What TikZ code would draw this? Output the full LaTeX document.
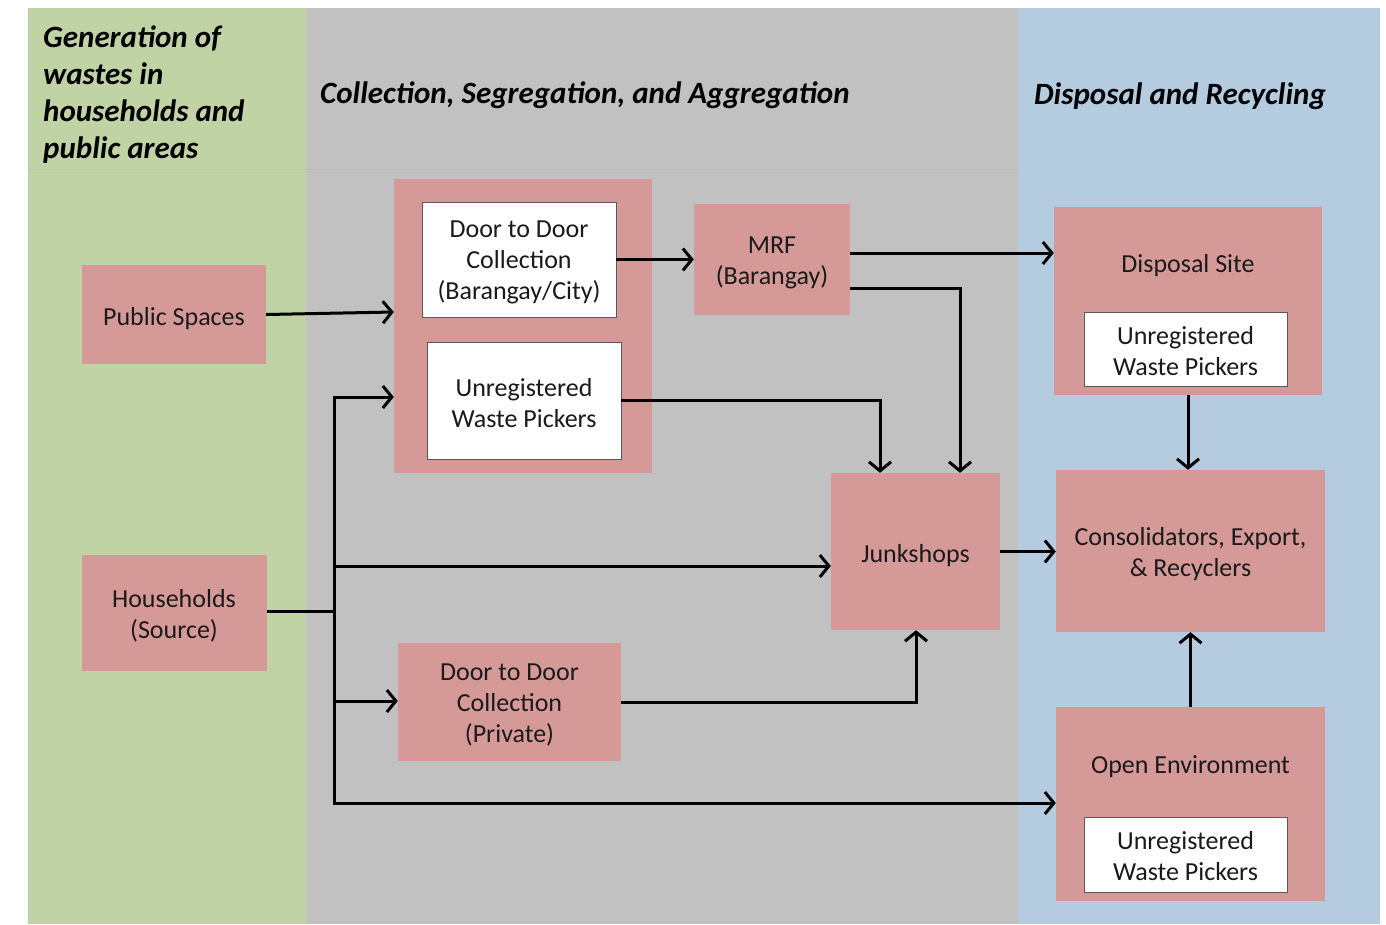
\documentclass[tikz,border=0pt]{standalone}
\usepackage{fontspec}
\setmainfont{Carlito}
\usetikzlibrary{arrows.meta}
\definecolor{bggreen}{HTML}{C0D3A5}
\definecolor{bggray}{HTML}{C1C1C1}
\definecolor{bgblue}{HTML}{B5CBE0}
\definecolor{boxpink}{HTML}{D59A98}
\definecolor{txt}{HTML}{1A1A1A}
\begin{document}
\begin{tikzpicture}[x=1pt,y=-1pt,
  every node/.style={font=\fontsize{26}{31}\selectfont, text=txt, align=center, inner sep=0pt},
  pinkbox/.style={fill=boxpink, draw=none},
  whitebox/.style={fill=white, draw=black!65, line width=0.8pt},
  header/.style={font=\fontsize{31}{37}\selectfont\bfseries\itshape, text=black, align=left, anchor=west},
  flow/.style={line width=3pt, -{Straight Barb[length=9pt,width=22pt]}},
  plain/.style={line width=3pt}
]
\useasboundingbox (0,0) rectangle (1386,924);
\fill[white] (0,0) rectangle (1386,924);
% column backgrounds
\fill[bggreen] (28,8) rectangle (306,924);
\fill[bggray] (306,8) rectangle (1018,924);
\fill[bgblue] (1018,8) rectangle (1380,924);
\draw[bggreen!96!black, line width=0.8pt] (28,169) -- (306,169);
\draw[bggray!96!black, line width=0.8pt] (306,169) -- (1018,169);

% column headings
\node[header] (h1) at (43,95) {Generation of\\wastes in\\households and\\public areas};
\node[header] (h2) at (320,95) {Collection, Segregation, and Aggregation};
\node[header] (h3) at (1034,96) {Disposal and Recycling};

% sources
\node[pinkbox, minimum width=184pt, minimum height=99pt] (pub) at (174,314.5) {};
\node (pubT) at ([yshift=-4pt]pub.center) {Public Spaces};
\node[pinkbox, minimum width=185pt, minimum height=116pt] (hh) at (174,612.5) {};
\node (hhT) at ([yshift=-3pt]hh.center) {Households\\(Source)};

% collection group
\node[pinkbox, minimum width=258pt, minimum height=294pt] (grp) at (523,326) {};
\node[whitebox, minimum width=194pt, minimum height=115pt] (d2dc) at (519,259.5) {};
\node (d2dcT) at ([yshift=-3pt]d2dc.center) {Door to Door\\Collection\\(Barangay/City)};
\node[whitebox, minimum width=194pt, minimum height=117pt] (uwp1) at (524,400.5) {};
\node (uwp1T) at ([yshift=-3pt]uwp1.center) {Unregistered\\Waste Pickers};
\node[pinkbox, minimum width=156pt, minimum height=111pt] (mrf) at (772,259.5) {};
\node (mrfT) at ([yshift=-3pt]mrf.center) {MRF\\(Barangay)};
\node[pinkbox, minimum width=169pt, minimum height=157pt] (junk) at (915.5,551.5) {};
\node (junkT) at ([yshift=-4pt]junk.center) {Junkshops};
\node[pinkbox, minimum width=223pt, minimum height=118pt] (d2dp) at (509.5,702) {};
\node (d2dpT) at ([yshift=-3pt]d2dp.center) {Door to Door\\Collection\\(Private)};

% disposal and recycling
\node[pinkbox, minimum width=268pt, minimum height=188pt] (disp) at (1188,301) {};
\node (dispT) at (1188,266) {Disposal Site};
\node[whitebox, minimum width=203pt, minimum height=74pt] (uwp2) at (1185.5,349) {};
\node (uwp2T) at ([yshift=-2pt]uwp2.center) {Unregistered\\Waste Pickers};
\node[pinkbox, minimum width=269pt, minimum height=162pt] (cons) at (1190.5,551) {};
\node (consT) at ([yshift=-3pt]cons.center) {Consolidators, Export,\\\& Recyclers};
\node[pinkbox, minimum width=269pt, minimum height=194pt] (open) at (1190.5,804) {};
\node (openT) at (1190.5,767) {Open Environment};
\node[whitebox, minimum width=203pt, minimum height=75pt] (uwp3) at (1185.5,854.5) {};
\node (uwp3T) at ([yshift=-2pt]uwp3.center) {Unregistered\\Waste Pickers};

% household distribution trunk
\coordinate (trunkTop) at (334,397);
\coordinate (trunkMid) at (334,611);
\coordinate (trunkJ) at (334,566);
\coordinate (trunkP) at (334,701);
\coordinate (trunkBot) at (334,803);
\draw[plain] (hh.east |- trunkMid) -- (trunkMid);
\draw[plain, line cap=rect] (trunkTop) -- (trunkBot);
\draw[flow] (trunkTop) -- (grp.west |- trunkTop);
\draw[flow] (trunkJ) -- (junk.west |- trunkJ);
\draw[flow] (trunkP) -- (d2dp.west |- trunkP);
\draw[flow] (trunkBot) -- (open.west |- trunkBot);

% flows
\draw[flow] (pub.east) -- (grp.west |- 0,312);
\draw[flow] (d2dc.east) -- (mrf.west |- d2dc.east);
\draw[flow] (mrf.east |- 0,253) -- (disp.west |- 0,253);
\draw[flow] (mrf.east |- 0,288) -| (960,0 |- junk.north);
\draw[flow] (uwp1.east) -| (880,0 |- junk.north);
\draw[flow] (junk.east) -- (cons.west |- junk.east);
\draw[flow] (disp.south) -- (cons.north -| disp.south);
\draw[flow] (open.north) -- (cons.south);
\draw[flow] (d2dp.east) -| (916,0 |- junk.south);
\end{tikzpicture}
\end{document}
